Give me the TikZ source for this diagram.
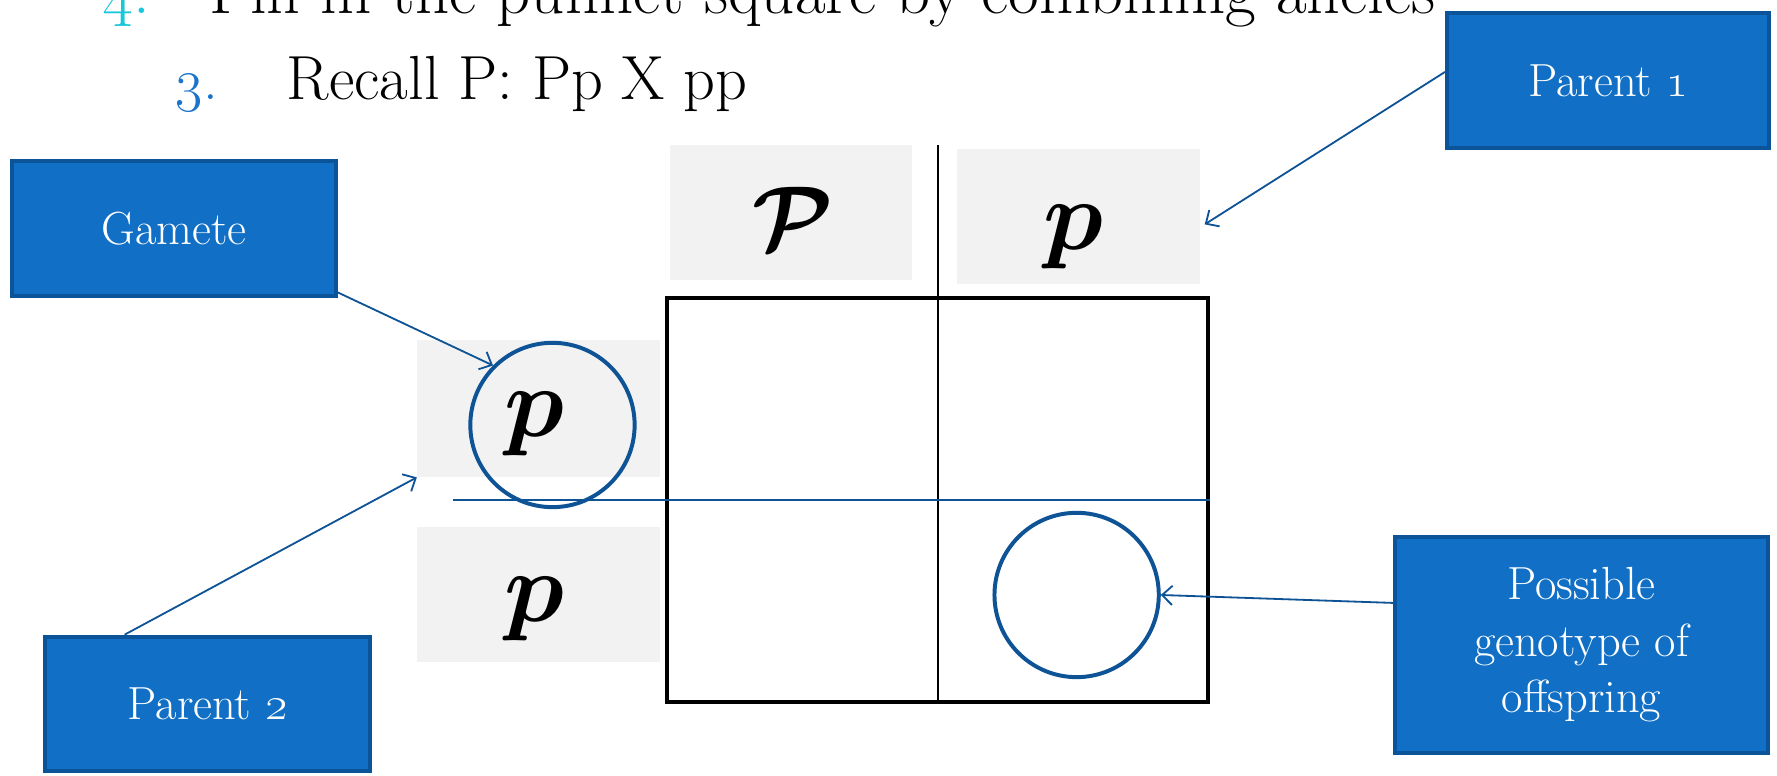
\RequirePackage{fix-cm}
\documentclass[tikz,border=0pt]{standalone}
\usepackage{amsmath}
\usepackage{graphicx}
\usepackage{tikz}
\usetikzlibrary{arrows.meta}
\usepackage{xcolor}
\definecolor{boxfill}{RGB}{17,112,198}
\definecolor{boxedge}{RGB}{11,84,153}
\definecolor{linkblue}{RGB}{14,83,150}
\definecolor{allelegray}{RGB}{242,242,242}
\definecolor{numcyan}{RGB}{24,200,218}
\definecolor{numblue}{RGB}{26,115,205}

\begin{document}
\begin{tikzpicture}[x=1pt, y=-1pt,
  callout/.style={rectangle, draw=boxedge, fill=boxfill, line width=3.5pt, text=white, align=center, inner sep=0pt, font=\fontsize{41}{50}\selectfont},
  allele/.style={rectangle, fill=allelegray, inner sep=0pt, minimum width=214pt, minimum height=119pt},
  gene/.style={inner sep=0pt, font=\fontsize{88}{88}\selectfont},
  ring/.style={circle, draw=linkblue, line width=3.5pt, minimum size=145pt, inner sep=0pt},
  link/.style={draw=linkblue, line width=1.6pt, -{Straight Barb[length=9pt, width=17pt]}}]
  \useasboundingbox (0,0) rectangle (1568,684);
  \clip (0,0) rectangle (1568,684);
  \fill[white] (0,0) rectangle (1568,684);

  \node[anchor=base west, inner sep=0pt, text=numcyan, font=\fontsize{59}{70}\selectfont] (num4) at (90,12) {\oldstylenums{4}.};
  \node[anchor=base west, inner sep=0pt, font=\fontsize{59}{70}\selectfont] (title) at (185,12) {Fill in the punnet square by combining alleles};
  \node[anchor=base west, inner sep=0pt, text=numblue, font=\fontsize{52}{60}\selectfont] (num3) at (155,88) {\oldstylenums{3}.};
  \node[anchor=base west, inner sep=0pt, font=\fontsize{55}{66}\selectfont] (recall) at (253,88) {Recall P: Pp X pp};

  \node[allele] (pa) at (698,187.5) {};
  \node[allele] (pb) at (951.5,191) {};
  \node[allele, minimum height=121pt] (pc) at (475,360.5) {};
  \node[allele] (pd) at (475,524.5) {};

  \node[draw, line width=3.5pt, fill=white, minimum width=477.5pt, minimum height=356.5pt, inner sep=0pt] (sq) at (827.5,441) {};
  \draw[line width=1.8pt] (828,128) -- (828,621);
  \draw[linkblue, line width=1.5pt] (400,441) -- (1068,441);

  \node[gene, font=\fontsize{80}{80}\selectfont] (ga) at (700,193) {$\boldsymbol{\mathcal{P}}$};
  \node[gene] (gb) at (947,209) {$\boldsymbol{p}$};
  \node[gene] (gc) at (472,374) {$\boldsymbol{p}$};
  \node[gene] (gd) at (472,537) {$\boldsymbol{p}$};

  \node[ring] (gcirc) at (487.5,375) {};
  \node[ring] (ocirc) at (950,525) {};

  \node[callout, minimum width=285.5pt, minimum height=119.5pt] (gamete) at (153.5,201.5) {Gamete};
  \node[callout, minimum width=284.5pt, minimum height=118.5pt] (pone) at (1419,71) {Parent \oldstylenums{1}};
  \node[callout, minimum width=286.5pt, minimum height=118.5pt] (ptwo) at (183,621) {Parent \oldstylenums{2}};
  \node[callout, minimum width=329.5pt, minimum height=190.5pt] (offs) at (1395.5,569) {Possible\\genotype of\\offspring};

  \coordinate (tipone) at (1063,198);
  \draw[link] ([yshift=7.5pt]pone.west) -- (tipone);
  \draw[link] ([yshift=5pt]gamete.south east) -- (gcirc.135);
  \draw[link] ([xshift=-73pt]ptwo.north) -- (pc.south west);
  \draw[link] ([yshift=37pt]offs.west) -- (ocirc.east);
\end{tikzpicture}
\end{document}
